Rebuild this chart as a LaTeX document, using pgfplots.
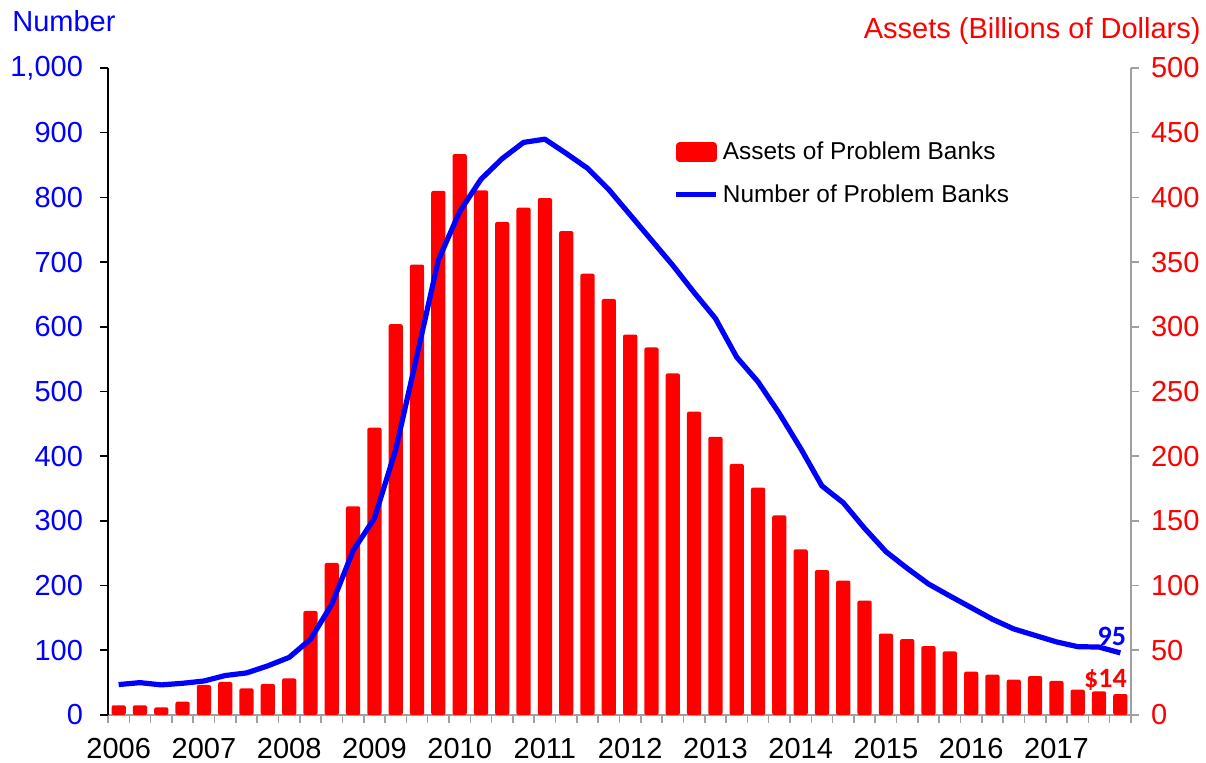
\documentclass[border=0pt]{standalone}
\usepackage{fontspec}
\setmainfont{Liberation Sans}
\newfontfamily\calib{Carlito}
\usepackage{pgfplots}
\usepackage{pgfplotstable}
\pgfplotsset{compat=1.18}
\definecolor{bankred}{HTML}{FF0000}
\definecolor{bankblue}{HTML}{0000FF}
\definecolor{axgray}{HTML}{A0A0A0}

% quarter index (0 = 2006Q1), assets ($bn), number of problem banks
\pgfplotstableread{
q assets number
0 7.5 47
1 7.5 50
2 5.9 46.5
3 10.3 49
4 23.2 52.5
5 25.5 61
6 20.6 65
7 24.0 76
8 28.3 89
9 80.4 117
10 117.5 171
11 161.3 254
12 222.0 304
13 302.0 410
14 348.0 556
15 405.0 703
16 433.5 778
17 405.5 828
18 381.0 860
19 392.0 885
20 399.5 890
21 374.0 868
22 341.0 845
23 321.5 812
24 294.0 773
25 284.0 734
26 264.0 695
27 234.4 653
28 215.0 613
29 194.0 553
30 175.7 515
31 154.3 466
32 128.0 412
33 112.0 354
34 103.8 328
35 88.4 288.5
36 62.9 252.5
37 58.7 226.7
38 53.3 202.5
39 49.2 184
40 33.5 166
41 31.2 148
42 27.3 133
43 30.1 123
44 26.3 113
45 19.6 105.6
46 18.3 105
47 16.2 96
}\banks

\begin{document}
\begin{tikzpicture}
\useasboundingbox (-54pt,-24pt) rectangle (549pt,357.5pt);
\pgfplotsset{
  common/.style={
    width=511.5pt, height=323.5pt, scale only axis,
    xmin=-0.5, xmax=47.5,
    tick align=outside, major tick length=4pt, minor tick length=4pt,
    /pgf/number format/assume math mode=true,
    tick label style={font=\fontsize{14.5}{16}\selectfont},
  }
}
% right axis: assets (bars) and the quarter axis
\begin{axis}[common,
  axis y line*=right, axis x line*=bottom,
  ymin=0, ymax=500, ytick={0,50,...,500},
  yticklabel style={text=bankred, xshift=2.5pt},
  y axis line style={axgray, line width=0.8pt},
  ytick style={axgray, line width=0.8pt},
  x axis line style={axgray, line width=0.8pt},
  xtick={0,4,...,44},
  xticklabels={2006,2007,2008,2009,2010,2011,2012,2013,2014,2015,2016,2017},
  major x tick style={draw=none},
  minor xtick={-0.5,0.5,...,47.5},
  minor x tick style={axgray, line width=0.8pt},
  xticklabel style={yshift=-4pt},
]
\addplot[ybar, bar width=0.67, bar shift=0pt, fill=bankred, draw=none,
  rounded corners=1pt] table[x=q,y=assets]{\banks};
\node[font=\calib\bfseries\fontsize{14}{16}\selectfont, text=bankred]
  at (axis cs:46.3,27) {\$14};
\end{axis}
% left axis: number of problem banks
\begin{axis}[common,
  axis y line*=left, hide x axis,
  ymin=0, ymax=1000, ytick={0,100,...,1000},
  yticklabel style={text=bankblue, xshift=-5pt},
  y axis line style={black, line width=0.8pt},
  ytick style={black, line width=0.8pt},
  legend style={draw=none, fill=none, at={(0.547,0.899)}, anchor=north west,
    font=\fontsize{12.2}{15}\selectfont, row sep=7pt, cells={anchor=west}},
]
\addlegendimage{legend image code/.code={\fill[bankred, rounded corners=1.5pt] (0pt,-4.75pt) rectangle (20pt,4.75pt);}}
\addlegendentry{Assets of Problem Banks}
\addplot[bankblue, line width=2.6pt, line join=round,
  legend image code/.code={\draw[bankblue, line width=2.5pt] (0pt,0pt) -- (20pt,0pt);}]
  table[x=q,y=number]{\banks};
\addlegendentry{Number of Problem Banks}
\node[font=\calib\bfseries\fontsize{14}{16}\selectfont, text=bankblue]
  at (axis cs:46.6,122) {95};
\end{axis}
\node[anchor=base west, font=\fontsize{14.5}{16}\selectfont, text=bankblue, inner sep=0pt]
  at (-48pt,341.5pt) {Number};
\node[anchor=base east, font=\fontsize{14.5}{16}\selectfont, text=bankred, inner sep=0pt]
  at (546.5pt,338pt) {Assets (Billions of Dollars)};
\end{tikzpicture}
\end{document}
